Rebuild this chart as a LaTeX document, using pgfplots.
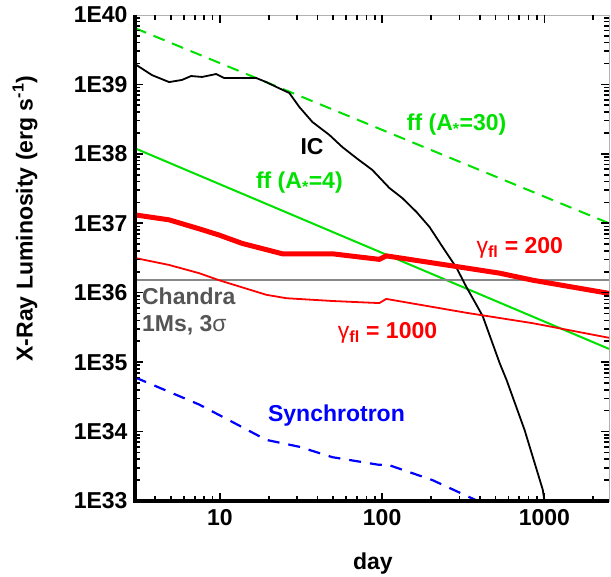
\documentclass[border=0pt]{standalone}
\usepackage{fontspec}
\setmainfont{Liberation Sans}
\usepackage{pgfplots}
\pgfplotsset{compat=1.18}
\definecolor{ffgreen}{RGB}{0,225,0}
\definecolor{chgray}{RGB}{136,136,136}
\definecolor{txgray}{RGB}{85,85,85}

\newcommand{\bigf}{\fontsize{23}{27}\selectfont\bfseries}
\tikzset{tk/.style={black, line width=1.6pt}}

\begin{document}
\begin{tikzpicture}
\begin{axis}[
    name=ax,
    scale only axis,
    width=474pt, height=486pt,
    xmode=log, ymode=log,
    xmin=3, xmax=2500,
    ymin=1e33, ymax=1e40,
    xtick={10,100,1000},
    xticklabels={10,100,1000},
    ytick={1e33,1e34,1e35,1e36,1e37,1e38,1e39,1e40},
    yticklabels={1E33,1E34,1E35,1E36,1E37,1E38,1E39,1E40},
    major tick length=0pt, minor tick length=0pt,
    axis line style={draw=gray!60, line width=0.8pt},
    tick label style={font=\bigf},
    xticklabel style={yshift=-5pt},
    yticklabel style={xshift=-4pt},
    xlabel={day},
    ylabel={X-Ray Luminosity (erg s\textsuperscript{-1})},
    label style={font=\bigf},
    xlabel style={at={(axis description cs:0.502,-0.128)}, anchor=center},
    ylabel style={at={(axis description cs:-0.232,0.581)}, anchor=center},
]
% ff (A*=30)
\addplot[ffgreen, line width=2pt, dash pattern=on 12pt off 8pt] coordinates {(3,6.46e39) (2500,1.0e37)};
% ff (A*=4)
\addplot[ffgreen, line width=2pt] coordinates {(3,1.20e38) (2500,1.55e35)};
% Chandra 1Ms 3 sigma
\addplot[chgray, line width=2pt] coordinates {(3,1.5e36) (2500,1.5e36)};
% IC
\addplot[black, line width=1.8pt] coordinates {
(3,1.96e39) (3.82,1.36e39) (4.87,1.08e39) (5.85,1.16e39) (6.65,1.32e39)
(7.78,1.28e39) (9.48,1.41e39) (10.6,1.24e39) (14.5,1.24e39) (16.7,1.24e39)
(19.3,1.08e39) (22.3,9.18e38) (26.8,7.52e38) (30.9,4.72e38) (37.2,2.87e38)
(47.3,1.87e38) (56.9,1.25e38) (69.4,8.69e37) (87.1,5.84e37) (111,3.21e37)
(133,2.31e37) (163,1.45e37) (196,8.81e36) (236,4.54e36) (288,2.26e36)
(331,1.20e36) (382,6.62e35) (417,4.57e35) (530,9.66e34) (585,5.50e34)
(755,1.05e34) (977,1.45e33) (1000,1.0e33)};
% gamma_fl = 200
\addplot[red, line width=5pt] coordinates {
(3,1.32e37) (4.86,1.12e37) (7.45,8.32e36) (9.9,6.76e36) (13.7,5.13e36)
(24.3,3.63e36) (49.4,3.63e36) (96,3.02e36) (106,3.39e36) (204,2.69e36)
(530,1.91e36) (850,1.51e36) (2500,9.77e35)};
% gamma_fl = 1000
\addplot[red, line width=1.8pt] coordinates {
(3,3.16e36) (4.86,2.51e36) (7.45,1.91e36) (9.9,1.51e36) (19.3,9.33e35)
(25.7,8.32e35) (49.4,7.59e35) (96,7.08e35) (106,8.13e35) (331,5.13e35)
(850,3.63e35) (2500,2.24e35)};
% Synchrotron
\addplot[blue, line width=2.2pt, dash pattern=on 12pt off 9pt] coordinates {
(3,6.03e34) (7.45,2.45e34) (11.9,1.38e34) (19.3,7.59e33) (30.9,6.03e33)
(49.4,4.27e33) (96,3.31e33) (106,3.39e33) (204,2.0e33) (381,1.02e33) (400,1.0e33)};

% tick marks, inside, on all four sides (lengths given in axis units)
\pgfplotsinvokeforeach{10,100,1000}{
  \draw[tk] (axis cs:#1,1e33) -- (axis cs:#1,1.3e33);
  \draw[tk] (axis cs:#1,1e40) -- (axis cs:#1,7.7e39);
}
\pgfplotsinvokeforeach{4,5,6,7,8,9,20,30,40,50,60,70,80,90,200,300,400,500,600,700,800,900,2000}{
  \draw[tk] (axis cs:#1,1e33) -- (axis cs:#1,1.16e33);
  \draw[tk] (axis cs:#1,1e40) -- (axis cs:#1,8.6e39);
}
\pgfplotsinvokeforeach{34,35,36,37,38,39}{
  \draw[tk] (axis cs:3,1e#1) -- (axis cs:3.36,1e#1);
  \draw[tk] (axis cs:2500,1e#1) -- (axis cs:2232,1e#1);
}
\pgfplotsinvokeforeach{2,3,4,5,6,7,8,9}{
  \draw[tk] (axis cs:3,#1e33) -- (axis cs:3.2,#1e33) (axis cs:3,#1e34) -- (axis cs:3.2,#1e34)
            (axis cs:3,#1e35) -- (axis cs:3.2,#1e35) (axis cs:3,#1e36) -- (axis cs:3.2,#1e36)
            (axis cs:3,#1e37) -- (axis cs:3.2,#1e37) (axis cs:3,#1e38) -- (axis cs:3.2,#1e38)
            (axis cs:3,#1e39) -- (axis cs:3.2,#1e39);
  \draw[tk] (axis cs:2500,#1e33) -- (axis cs:2345,#1e33) (axis cs:2500,#1e34) -- (axis cs:2345,#1e34)
            (axis cs:2500,#1e35) -- (axis cs:2345,#1e35) (axis cs:2500,#1e36) -- (axis cs:2345,#1e36)
            (axis cs:2500,#1e37) -- (axis cs:2345,#1e37) (axis cs:2500,#1e38) -- (axis cs:2345,#1e38)
            (axis cs:2500,#1e39) -- (axis cs:2345,#1e39);
}

\node[font=\bigf] at (axis cs:37,1.26e38) {IC};
\node[font=\bigf, text=ffgreen] at (axis cs:288,2.6e38) {ff (A\textsubscript{*}=30)};
\node[font=\bigf, text=ffgreen] at (axis cs:30.9,3.8e37) {ff (A\textsubscript{*}=4)};
\node[font=\bigf, text=red] at (axis cs:705,4.4e36) {{\mdseries γ}\textsubscript{fl} = 200};
\node[font=\bigf, text=red] at (axis cs:108,2.62e35) {{\mdseries γ}\textsubscript{fl} = 1000};
\node[font=\bigf, text=txgray, anchor=west, align=left, inner sep=0pt] at (axis cs:3.31,5.43e35)
  {\fontsize{23}{32}\selectfont Chandra\\1Ms, 3{\mdseries σ}};
\node[font=\bigf, text=blue] at (axis cs:52.3,1.72e34) {Synchrotron};
\end{axis}
\draw[black, line width=3.5pt] (ax.north west) -- (ax.south west) -- (ax.south east);
\pgfresetboundingbox
\useasboundingbox (-135pt,-76pt) rectangle (476pt,501pt);
\end{tikzpicture}
\end{document}
